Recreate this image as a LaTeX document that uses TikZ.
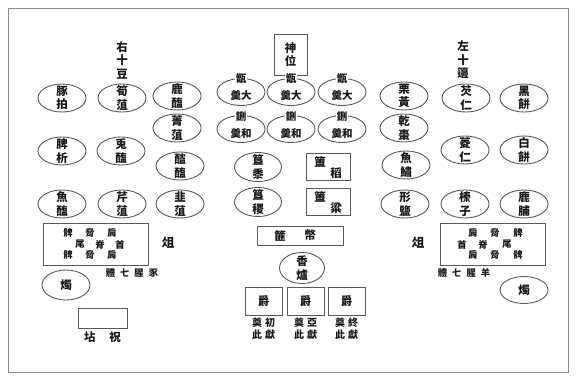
\documentclass[tikz,border=0pt]{standalone}
\usepackage{fontspec}
\newfontfamily\cjk{Noto Sans CJK TC}
\usetikzlibrary{shapes.geometric}
\definecolor{ln}{gray}{0.35}
\definecolor{tx}{gray}{0.1}
\tikzset{
  ov/.style={draw=ln, line width=0.9pt, ellipse, inner sep=0pt, minimum width=48pt, minimum height=28pt},
  bx/.style={draw=ln, line width=0.9pt, rectangle, inner sep=0pt},
  tt/.style={text=tx, inner sep=0pt, align=center, font=\cjk\bfseries\fontsize{11.5}{13.5}\selectfont},
  sm/.style={text=tx, inner sep=0pt, align=center, font=\cjk\bfseries\fontsize{9.3}{10}\selectfont},
  lab/.style={text=tx, inner sep=0.6pt, fill=white, font=\cjk\bfseries\fontsize{10.5}{12}\selectfont},
  big/.style={text=tx, inner sep=0pt, font=\cjk\bfseries\fontsize{12.5}{14}\selectfont}
}
\begin{document}
\begin{tikzpicture}[x=1pt,y=-1pt]
\useasboundingbox (0,0) rectangle (576,381);
\node[draw=ln!70, line width=0.6pt, rectangle, minimum width=560pt, minimum height=364pt, inner sep=0pt] (frame) at (288,190) {};

% titles
\node[tt] (tR) at (122,60) {右\\十\\豆};
\node[tt] (tL) at (463,60) {左\\十\\籩};

% shen wei
\node[bx, minimum width=33pt, minimum height=41pt] (sw) at (290.5,54.5) {};
\node[tt] at (sw) {神\\位};

% left ten dou
\foreach \n/\x/\y/\t in {dA/62/98/豚\\拍, dB/122/98/筍\\菹, dC/177/96/鹿\\醢, dD/177/128/菁\\菹,
  dE/62/151/脾\\析, dF/121/151/兎\\醢, dG/180/166/醓\\醢, dH/62/204/魚\\醢, dI/122/204/芹\\菹, dJ/180/204/韭\\菹}
  {\node[ov] (\n) at (\x,\y) {}; \node[tt] at (\n) {\t};}

% right ten bian
\foreach \n/\x/\y/\t in {bA/404/96/栗\\黃, bB/466/98/芡\\仁, bC/524/98/黑\\餅, bD/404/128/乾\\棗,
  bE/465/150/菱\\仁, bF/524/150/白\\餅, bG/406/165/魚\\鱐, bH/405/204/形\\鹽, bI/465/204/榛\\子, bJ/524/204/鹿\\脯}
  {\node[ov] (\n) at (\x,\y) {}; \node[tt] at (\n) {\t};}

% deng and xing
\foreach \n/\x in {g1/241, g2/291, g3/342}
  {\node[ov, minimum height=27pt] (\n) at (\x,92) {};
   \node[lab] at ([yshift=-1pt]\n.north) {甑};
   \node[tt, font=\cjk\bfseries\fontsize{10.5}{12}\selectfont] at ([yshift=-4pt]\n.center) {羹大};}
\foreach \n/\x in {h1/241, h2/291, h3/342}
  {\node[ov, minimum height=27pt] (\n) at (\x,129) {};
   \node[lab] at ([yshift=-1pt]\n.north) {鉶};
   \node[tt, font=\cjk\bfseries\fontsize{10.5}{12}\selectfont] at ([yshift=-5pt]\n.center) {羹和};}

% gui / fu
\node[ov, minimum width=47pt, minimum height=29pt] (gu1) at (258,167) {};
\node[tt] at (gu1) {簋\\黍};
\node[ov, minimum width=47pt, minimum height=29pt] (gu2) at (258,202) {};
\node[tt] at (gu2) {簋\\稷};
\node[bx, minimum width=44pt, minimum height=27pt] (fu1) at (328,166.5) {};
\node[tt] at ([xshift=-8pt,yshift=4.5pt]fu1.center) {簠};
\node[tt] at ([xshift=8pt,yshift=-6.5pt]fu1.center) {稻};
\node[bx, minimum width=44pt, minimum height=27pt] (fu2) at (328,201.5) {};
\node[tt] at ([xshift=-8pt,yshift=4.5pt]fu2.center) {簠};
\node[tt] at ([xshift=8pt,yshift=-6.5pt]fu2.center) {粱};

% fei bi
\node[bx, minimum width=86pt, minimum height=19pt] (fb) at (300,235.5) {};
\node[tt] at ([xshift=-20pt]fb.center) {篚};
\node[tt] at ([xshift=10pt]fb.center) {幣};

% xiang lu
\node[ov, minimum width=45pt, minimum height=31pt] (xl) at (302,268) {};
\node[tt] at (xl) {香\\爐};

% jue
\foreach \n/\x/\t in {j1/263.5/初, j2/305.5/亞, j3/346.5/終}
  {\node[bx, minimum width=37pt, minimum height=28pt] (\n) at (\x,301) {};
   \node[tt] at (\n) {爵};
   \node[sm, font=\cjk\bfseries\fontsize{10}{12}\selectfont] at ([yshift=-28pt]\n.center) {奠\hspace{3pt}\t\\此\hspace{3pt}獻};}

% zu left
\node[bx, minimum width=105pt, minimum height=42pt] (zL) at (95.5,244) {};
\node[sm] at (68,233) {髀}; \node[sm] at (90,233) {脅}; \node[sm] at (112,233) {肩};
\node[sm] at (80,244.5) {尾}; \node[sm] at (100,244.5) {脊}; \node[sm] at (120,244.5) {首};
\node[sm] at (68,255) {髀}; \node[sm] at (90,255) {脅}; \node[sm] at (112,255) {肩};
\node[big] (zuL) at (168,243) {俎};
\node[sm] (tzL) at (132,273) {體\hspace{5pt}七\hspace{5pt}腥\hspace{5pt}豕};

% zu right
\node[bx, minimum width=105pt, minimum height=42pt] (zR) at (492.5,244) {};
\node[sm] at (473,233) {肩}; \node[sm] at (495,233) {脅}; \node[sm] at (518,233) {髀};
\node[sm] at (462,244.5) {首}; \node[sm] at (483,244.5) {脊}; \node[sm] at (507,244.5) {尾};
\node[sm] at (473,255) {肩}; \node[sm] at (495,255) {脅}; \node[sm] at (518,255) {髀};
\node[big] (zuR) at (418,243) {俎};
\node[sm] (tzR) at (464,273) {體\hspace{5pt}七\hspace{5pt}腥\hspace{5pt}羊};

% candles
\node[ov, minimum width=48pt, minimum height=30pt] (zhL) at (66,285) {};
\node[tt] at (zhL) {燭};
\node[ov, minimum width=48pt, minimum height=27pt] (zhR) at (524,290) {};
\node[tt] at (zhR) {燭};

% zhu dian
\node[bx, minimum width=49pt, minimum height=20pt] (zd) at (102.5,318) {};
\node[big, font=\cjk\bfseries\fontsize{11.5}{13}\selectfont] at (102.5,337) {坫\hspace{14pt}祝};
\end{tikzpicture}
\end{document}
